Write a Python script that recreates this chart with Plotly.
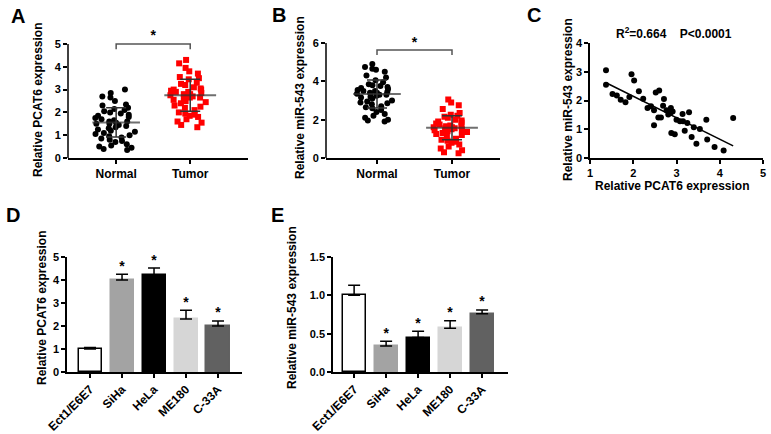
import numpy as np
import plotly.graph_objects as go

# ---------------- data ----------------
groups = ["Normal", "Tumor"]

a_normal = [3.0, 2.85, 2.7, 2.65, 2.5, 2.35, 2.3, 2.2, 2.15, 2.1, 2.05, 2.0, 1.95, 1.9, 1.85,
            1.8, 1.75, 1.7, 1.65, 1.6, 1.55, 1.5, 1.5, 1.45, 1.4, 1.35, 1.3, 1.25, 1.2, 1.15,
            1.1, 1.05, 1.0, 0.95, 0.9, 0.85, 0.8, 0.75, 0.7, 0.6, 0.55, 0.5, 0.45, 0.4, 0.35, 1.6]
a_tumor = [4.3, 4.15, 3.95, 3.8, 3.7, 3.55, 3.5, 3.45, 3.3, 3.25, 3.2, 3.1, 3.05, 3.0, 3.0,
           2.95, 2.9, 2.85, 2.8, 2.75, 2.7, 2.65, 2.65, 2.6, 2.55, 2.5, 2.45, 2.4, 2.3, 2.25,
           2.2, 2.1, 2.0, 1.95, 1.9, 1.85, 1.8, 1.7, 1.6, 1.55, 1.45, 1.35, 2.8, 2.9, 2.7]
a_mean = [1.56, 2.75]
a_sd = [0.64, 0.70]

b_normal = [4.9, 4.75, 4.65, 4.6, 4.5, 4.3, 4.2, 4.05, 3.95, 3.85, 3.8, 3.75, 3.7, 3.65, 3.6,
            3.55, 3.5, 3.45, 3.4, 3.35, 3.3, 3.3, 3.25, 3.2, 3.15, 3.1, 3.0, 2.95, 2.9, 2.85,
            2.8, 2.7, 2.65, 2.6, 2.5, 2.4, 2.3, 2.2, 2.1, 2.0, 1.95, 1.9, 3.4, 3.35, 3.5]
b_tumor = [3.05, 2.9, 2.75, 2.55, 2.35, 2.25, 2.2, 2.15, 2.1, 2.0, 1.95, 1.9, 1.85, 1.8, 1.75,
           1.7, 1.65, 1.6, 1.55, 1.5, 1.5, 1.45, 1.4, 1.35, 1.3, 1.25, 1.2, 1.1, 1.0, 0.95,
           0.9, 0.85, 0.8, 0.7, 0.6, 0.5, 0.4, 0.3, 0.25, 1.6, 1.55, 1.45, 1.65]
b_mean = [3.34, 1.58]
b_sd = [0.73, 0.63]

c_pcat6 = [1.37, 1.37, 1.52, 1.62, 1.71, 1.82, 1.91, 1.96, 2.02, 2.13, 2.23, 2.33, 2.41, 2.48,
           2.48, 2.52, 2.60, 2.58, 2.64, 2.69, 2.71, 2.77, 2.81, 2.86, 2.87, 2.91, 2.88, 2.96,
           3.00, 3.08, 3.14, 3.15, 3.19, 3.25, 3.29, 3.35, 3.40, 3.46, 3.54, 3.69, 3.71, 3.88,
           4.09, 4.31]
c_mir = [3.05, 2.55, 2.23, 2.17, 2.03, 1.94, 2.12, 2.91, 2.70, 2.32, 2.06, 1.74, 1.80, 1.66,
         1.14, 2.28, 2.35, 1.41, 1.41, 1.82, 2.05, 1.66, 1.51, 1.57, 1.74, 1.62, 0.87, 0.83,
         1.33, 1.28, 1.53, 1.28, 0.95, 1.22, 1.59, 0.73, 1.07, 0.50, 1.01, 1.33, 0.64, 0.38,
         0.26, 1.39]
c_label = "R<sup>2</sup>=0.664    P<0.0001"

cells = ["Ect1/E6E7", "SiHa", "HeLa", "ME180", "C-33A"]
d_vals = [1.0, 4.0, 4.22, 2.3, 2.0]
d_err = [0.07, 0.25, 0.30, 0.38, 0.22]
e_vals = [1.0, 0.34, 0.45, 0.57, 0.76]
e_err = [0.13, 0.06, 0.08, 0.10, 0.05]
sig = [False, True, True, True, True]
bar_colors = ["#ffffff", "#a3a3a3", "#000000", "#d6d6d6", "#616161"]

# ---------------- styling ----------------
FONT = "Liberation Sans, Arial, sans-serif"
W, H = 771, 434
LW = 1.5


def px_x(p):
    return p / W


def px_y(p):
    return 1 - p / H


fig = go.Figure()


def axis_common(**kw):
    d = dict(showgrid=False, zeroline=False, showline=True, linecolor="black", linewidth=LW,
             ticks="outside", ticklen=4, tickwidth=LW, tickcolor="black", automargin=False,
             tickfont=dict(family=FONT, size=11, color="black", weight="bold"),
             fixedrange=True)
    d.update(kw)
    return d


# ---------- panels A & B (column scatter) ----------
def dot_panel(xa, ya, normal, tumor, mean, sd, ymax_axis, yrange_top, tick_step, bracket_y):
    for i, (vals, col, sym) in enumerate([(normal, "black", "circle"),
                                          (tumor, "#ff0000", "square")]):
        fig.add_trace(go.Box(x0=i, y=vals, xaxis=xa, yaxis=ya, boxpoints="all", jitter=1,
                             pointpos=0, width=0.64, fillcolor="rgba(0,0,0,0)",
                             line=dict(width=0, color="rgba(0,0,0,0)"), whiskerwidth=0,
                             marker=dict(color=col, symbol=sym, size=6), showlegend=False,
                             hoverinfo="y"))
    # mean line (line-ew width = 1.4*size) and SD whiskers
    fig.add_trace(go.Scatter(x=[0, 1], y=mean, xaxis=xa, yaxis=ya, mode="markers",
                             marker=dict(symbol="line-ew", size=[34, 37],
                                         line=dict(width=2, color="#333333")),
                             error_y=dict(type="data", array=sd, width=10, thickness=1.5,
                                          color="#333333"),
                             showlegend=False, hoverinfo="skip"))
    # significance bracket
    tick_drop = 0.04 * yrange_top
    fig.add_shape(type="path", xref=xa, yref=ya,
                  path=f"M 0 {bracket_y - tick_drop} L 0 {bracket_y} L 1 {bracket_y} L 1 {bracket_y - tick_drop}",
                  line=dict(color="#555555", width=1.5))
    fig.add_trace(go.Scatter(x=[0.5], y=[bracket_y], xaxis=xa, yaxis=ya, mode="text",
                             text=["*"], textposition="top center", cliponaxis=False,
                             textfont=dict(family=FONT, size=14, color="black", weight="bold"),
                             showlegend=False, hoverinfo="skip"))
    # manual y axis line ending at top tick
    fig.add_shape(type="line", xref=f"{xa} domain", yref=f"{ya} domain", x0=0, x1=0,
                  y0=0, y1=ymax_axis / yrange_top, line=dict(color="black", width=LW))
    return dict(tickvals=list(np.arange(0, ymax_axis + 0.01, tick_step)))


tvA = dot_panel("x", "y", a_normal, a_tumor, a_mean, a_sd, 5, 5.7, 1, 5.0)
tvB = dot_panel("x2", "y2", b_normal, b_tumor, b_mean, b_sd, 6, 6.5, 2, 5.63)

# ---------- panel C (correlation) ----------
fig.add_trace(go.Scatter(x=c_pcat6, y=c_mir, xaxis="x3", yaxis="y3", mode="markers",
                         marker=dict(color="black", size=6), showlegend=False))
slope, intercept = np.polyfit(c_pcat6, c_mir, 1)
xl = np.array([min(c_pcat6), max(c_pcat6)])
fig.add_trace(go.Scatter(x=xl, y=slope * xl + intercept, xaxis="x3", yaxis="y3", mode="lines",
                         line=dict(color="black", width=1.5), showlegend=False))


# ---------- panels D & E (bars) ----------
def bar_panel(xa, ya, vals, err):
    idx = list(range(len(cells)))
    fig.add_trace(go.Bar(x=idx, y=vals, xaxis=xa, yaxis=ya, width=0.72,
                         marker=dict(color=bar_colors,
                                     line=dict(color=["black"] + bar_colors[1:], width=1.5)),
                         error_y=dict(type="data", symmetric=False, array=err,
                                      arrayminus=[0] * len(err), width=6, thickness=1.5,
                                      color="black"),
                         showlegend=False))
    sx = [i for i in idx if sig[i]]
    sy = [vals[i] + err[i] for i in sx]
    fig.add_trace(go.Scatter(x=sx, y=sy, xaxis=xa, yaxis=ya, mode="text", text=["*"] * len(sx),
                             textposition="top center", cliponaxis=False,
                             textfont=dict(family=FONT, size=14, color="black", weight="bold"),
                             showlegend=False, hoverinfo="skip"))


bar_panel("x4", "y4", d_vals, d_err)
bar_panel("x5", "y5", e_vals, e_err)

# ---------------- layout ----------------
xt = dict(tickvals=[0, 1], ticktext=groups,
          tickfont=dict(family=FONT, size=12, color="black", weight="bold"))
cat_ticks = dict(tickvals=list(range(len(cells))), ticktext=cells, tickangle=-45,
                 tickfont=dict(family=FONT, size=12, color="black", weight="bold"))

fig.update_layout(
    width=W, height=H, margin=dict(l=0, r=0, t=0, b=0, autoexpand=False),
    paper_bgcolor="white", plot_bgcolor="white", showlegend=False, bargap=0,
    xaxis=axis_common(domain=[px_x(68), px_x(248)], range=[-0.65, 1.78], anchor="y", **xt),
    yaxis=axis_common(domain=[px_y(158), px_y(28)], range=[0, 5.7], anchor="x",
                      showline=False, **tvA),
    xaxis2=axis_common(domain=[px_x(326), px_x(500)], range=[-0.68, 1.64], anchor="y2", **xt),
    yaxis2=axis_common(domain=[px_y(158), px_y(33.4)], range=[0, 6.5], anchor="x2",
                       showline=False, **tvB),
    xaxis3=axis_common(domain=[px_x(590), px_x(763)], range=[1, 5], anchor="y3",
                       tickvals=[1, 2, 3, 4, 5]),
    yaxis3=axis_common(domain=[px_y(158), px_y(43)], range=[0, 4], anchor="x3",
                       tickvals=[0, 1, 2, 3, 4]),
    xaxis4=axis_common(domain=[px_x(67), px_x(242)], range=[-0.72, 4.75], anchor="y4",
                       **cat_ticks),
    yaxis4=axis_common(domain=[px_y(372), px_y(257)], range=[0, 5], anchor="x4",
                       tickvals=[0, 1, 2, 3, 4, 5]),
    xaxis5=axis_common(domain=[px_x(333), px_x(508)], range=[-0.66, 4.81], anchor="y5",
                       **cat_ticks),
    yaxis5=axis_common(domain=[px_y(372), px_y(257)], range=[0, 1.5], anchor="x5",
                       tickvals=[0, 0.5, 1.0, 1.5], tickformat=".1f"),
)

title_font = dict(family=FONT, size=12, color="black", weight="bold")
letter_font = dict(family=FONT, size=20, color="black", weight="bold")
annots = [
    ("A", 18, 16, 0, letter_font), ("B", 279, 15, 0, letter_font), ("C", 534, 15, 0, letter_font),
    ("D", 13, 215, 0, letter_font), ("E", 277, 215, 0, letter_font),
    ("Relative PCAT6 expression", 38, 100, -90, title_font),
    ("Relative miR-543 expression", 300, 98, -90, title_font),
    ("Relative miR-543 expression", 568, 100, -90, title_font),
    ("Relative PCAT6 expression", 672, 186, 0, title_font),
    (c_label, 674, 33, 0, title_font),
    ("Relative PCAT6 expression", 42, 308, -90, title_font),
    ("Relative miR-543 expression", 292, 308, -90, title_font),
]
for txt, x, y, ang, fnt in annots:
    fig.add_annotation(text=txt, x=px_x(x), y=px_y(y), xref="paper", yref="paper",
                       showarrow=False, textangle=ang, font=fnt,
                       xanchor="center", yanchor="middle")

fig.write_html("out.html", config={"displayModeBar": False, "staticPlot": False},
               post_script="document.body.style.margin='0';document.body.style.padding='0';")
